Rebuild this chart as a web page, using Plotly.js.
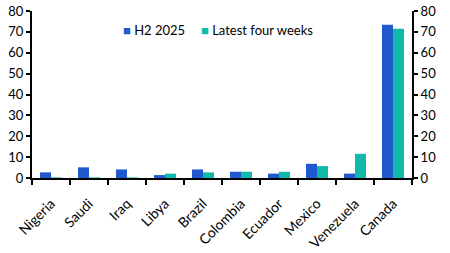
<!DOCTYPE html>
<html><head><meta charset="utf-8">
<script src="https://cdn.plot.ly/plotly-3.0.1.min.js"></script>
<style>html,body{margin:0;padding:0;background:#fff}#chart{width:450px;height:253px}</style>
</head><body><div id="chart"></div>
<script>
const categories = ["Nigeria","Saudi","Iraq","Libya","Brazil","Colombia","Ecuador","Mexico","Venezuela","Canada"];
const h2_2025 = [2.7, 5.1, 4.1, 1.4, 4.1, 3.0, 2.1, 6.8, 2.1, 73.4];
const latestFourWeeks = [0.3, 0.3, 0.3, 2.1, 2.7, 3.0, 3.0, 5.7, 11.6, 71.5];
const yTicks = [0,10,20,30,40,50,60,70,80];
const seriesNames = ["H2 2025", "Latest four weeks"];
const seriesColors = ["#2157CF", "#10B9A9"];

const font = {family: "Lato, 'Open Sans', sans-serif", size: 13, color: "#000"};
const traces = [
  {type:"bar", name:seriesNames[0], x:categories, y:h2_2025, marker:{color:seriesColors[0]}},
  {type:"bar", name:seriesNames[1], x:categories, y:latestFourWeeks, marker:{color:seriesColors[1]}},
  {type:"scatter", mode:"none", x:categories, y:h2_2025, yaxis:"y2", showlegend:false, hoverinfo:"skip"}
];
const yBase = {range:[0,80], tickvals:yTicks, ticks:"outside", ticklen:4, tickwidth:2, tickcolor:"#000",
  showline:true, linewidth:2, linecolor:"#000", showgrid:false, zeroline:false, tickfont:font, fixedrange:true};
const legendAnn = [
  {x:0.235, text:"<span style='color:"+seriesColors[0]+"'>■</span> "+seriesNames[0]},
  {x:0.44, text:"<span style='color:"+seriesColors[1]+"'>■</span> "+seriesNames[1]}
].map(a => Object.assign({xref:"paper", yref:"paper", y:0.885, xanchor:"left", yanchor:"middle", showarrow:false, font:font}, a));
const layout = {
  width:450, height:253, margin:{l:32, r:38, t:11, b:75},
  paper_bgcolor:"#fff", plot_bgcolor:"#fff", font:font,
  barmode:"group", bargap:0.42, bargroupgap:0,
  showlegend:false,
  annotations: legendAnn,
  xaxis:{type:"category", tickson:"boundaries", ticks:"outside", ticklen:5, tickwidth:2, tickcolor:"#000",
    showline:true, linewidth:2, linecolor:"#000", tickangle:-45, tickfont:Object.assign({}, font, {size:14}),
    ticklabelstandoff:10, showgrid:false, range:[-0.5,9.5]},
  yaxis:Object.assign({}, yBase, {side:"left"}),
  yaxis2:Object.assign({}, yBase, {side:"right", overlaying:"y"})
};
Plotly.newPlot("chart", traces, layout, {staticPlot:true, displayModeBar:false});
</script></body></html>
